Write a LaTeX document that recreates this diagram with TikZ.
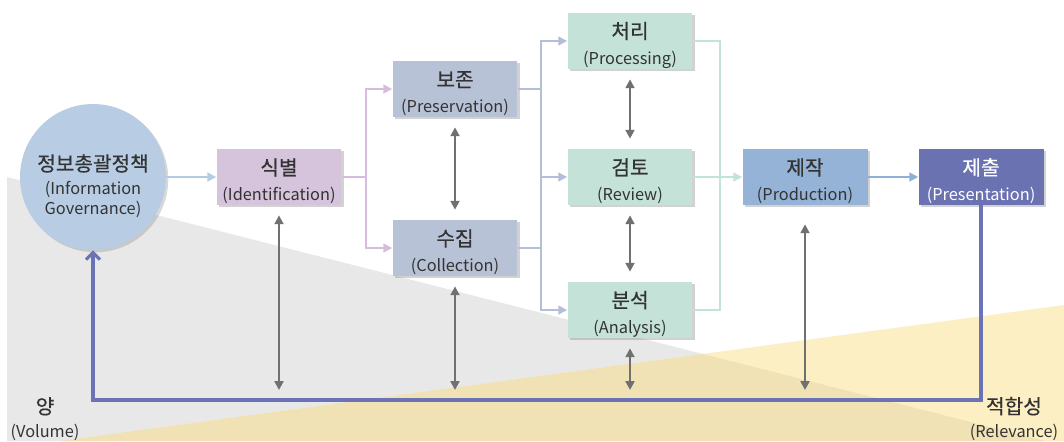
\documentclass[tikz,border=0pt]{standalone}
\usepackage{fontspec}
\setmainfont{Noto Sans CJK KR}
\newfontfamily\krfont[FakeBold=0.5]{Noto Sans CJK KR}
\usetikzlibrary{arrows.meta}
\usetikzlibrary{shadows}

\definecolor{txtgray}{HTML}{333333}
\definecolor{bggray}{HTML}{E8E8E8}
\definecolor{bgyellow}{HTML}{FDEFC4}
\definecolor{bgtan}{HTML}{F0E2B5}
\definecolor{govfill}{HTML}{B8CDE4}
\definecolor{idenfill}{HTML}{D5C4DC}
\definecolor{keepfill}{HTML}{B8C2D6}
\definecolor{workfill}{HTML}{C4E2D7}
\definecolor{prodfill}{HTML}{95B3D7}
\definecolor{submfill}{HTML}{6A72B2}
\definecolor{linegov}{HTML}{B4CBE4}
\definecolor{lineiden}{HTML}{D8BCDD}
\definecolor{linekeep}{HTML}{B4BED8}
\definecolor{linework}{HTML}{C2E4D8}
\definecolor{lineprod}{HTML}{8FB0D6}
\definecolor{linesubm}{HTML}{6B73B6}
\definecolor{arrgray}{HTML}{707070}

\newcommand{\hd}[1]{{\krfont\fontsize{11.5}{14}\selectfont\rule{0pt}{14pt}#1}}

\begin{document}
\begin{tikzpicture}[
    x=0.02cm, y=-0.02cm,
    every node/.style={font=\fontsize{9.3}{11.5}\selectfont, text=txtgray, align=center},
    box/.style={
      rectangle, inner sep=0pt,
      minimum width=2.5cm, minimum height=1.12cm,
      drop shadow={shadow xshift=1.3pt, shadow yshift=-1.3pt, opacity=0.35},
    },
    flow/.style={line width=1.1pt, -{Triangle[length=5pt,width=5pt]}},
    link/.style={line width=1.1pt},
    both/.style={
      line width=1.3pt, draw=arrgray,
      {Triangle[length=5pt,width=5pt]}-{Triangle[length=5pt,width=5pt]},
      shorten <=0.2cm, shorten >=0.2cm,
    },
  ]

  % background
  \fill[white] (0,0) rectangle (1064,441);
  \useasboundingbox (0,0) rectangle (1064,441);
  \fill[bggray] (7,177) -- (1045,441) -- (7,441) -- cycle;
  \fill[bgyellow] (60,441) -- (1064,305) -- (1064,441) -- cycle;
  \begin{scope}
    \clip (7,177) -- (1045,441) -- (7,441) -- cycle;
    \fill[bgtan] (60,441) -- (1064,305) -- (1064,441) -- cycle;
  \end{scope}

  % nodes
  \node[circle, fill=govfill, minimum size=2.92cm, inner sep=0pt,
        drop shadow={shadow xshift=1.3pt, shadow yshift=-1.3pt, opacity=0.3}]
        (gov) at (93,177) {\rule{0pt}{20pt}\hd{정보총괄정책}\\[2pt](Information\\Governance)};
  \node[box, fill=idenfill] (iden) at (279,177) {\hd{식별}\\[3pt](Identification)};
  \node[box, fill=keepfill] (pres) at (455,89)  {\hd{보존}\\[3pt](Preservation)};
  \node[box, fill=keepfill] (coll) at (455,248) {\hd{수집}\\[3pt](Collection)};
  \node[box, fill=workfill] (proc) at (630,41)  {\hd{처리}\\[3pt](Processing)};
  \node[box, fill=workfill] (rev)  at (630,177) {\hd{검토}\\[3pt](Review)};
  \node[box, fill=workfill] (anal) at (630,310) {\hd{분석}\\[3pt](Analysis)};
  \node[box, fill=prodfill] (prod) at (805,177) {\hd{제작}\\[3pt](Production)};
  \node[box, fill=submfill, text=white] (subm) at (981,177) {\hd{제출}\\[3pt](Presentation)};

  \node (vol) at (45,415)   {\hd{양}\\[2pt](Volume)};
  \node (rel) at (1014,415) {\hd{적합성}\\[2pt](Relevance)};

  % forks
  \coordinate (f1) at (366,177);
  \coordinate (f2) at (541,177);
  \coordinate (f3) at (720,177);
  \coordinate (base) at (0,390);
  \coordinate (rb) at (981,400);

  \draw[flow, draw=linegov] (gov) -- (iden);

  \draw[link, draw=lineiden] (iden.east) -- (f1);
  \draw[flow, draw=lineiden] (f1) |- (pres.west);
  \draw[flow, draw=lineiden] (f1) |- (coll.west);

  \draw[link, draw=linekeep] (pres.east) -| (f2);
  \draw[link, draw=linekeep] (coll.east) -| (f2);
  \draw[flow, draw=linekeep] (f2) |- (proc.west);
  \draw[flow, draw=linekeep] (f2) -- (rev.west);
  \draw[flow, draw=linekeep] (f2) |- (anal.west);

  \draw[link, draw=linework] (proc.east) -| (f3);
  \draw[link, draw=linework] (anal.east) -| (f3);
  \draw[flow, draw=linework] (rev.east) -- (prod.west);

  \draw[flow, draw=lineprod] (prod) -- (subm);

  \draw[line width=1.8pt, draw=linesubm, -{Straight Barb[length=4pt,width=8pt]}]
    (subm.south) -- (rb) -| (gov.south);

  % gray links
  \draw[both] (pres) -- (coll);
  \draw[both] (proc) -- (rev);
  \draw[both] (rev) -- (anal);
  \draw[both, shorten >=0pt] (iden.south) -- (iden.south |- base);
  \draw[both, shorten >=0pt] (coll.south) -- (coll.south |- base);
  \draw[both, shorten >=0pt] (anal.south) -- (anal.south |- base);
  \draw[both, shorten >=0pt, shorten <=0.38cm] (prod.south) -- (prod.south |- base);

\end{tikzpicture}
\end{document}
